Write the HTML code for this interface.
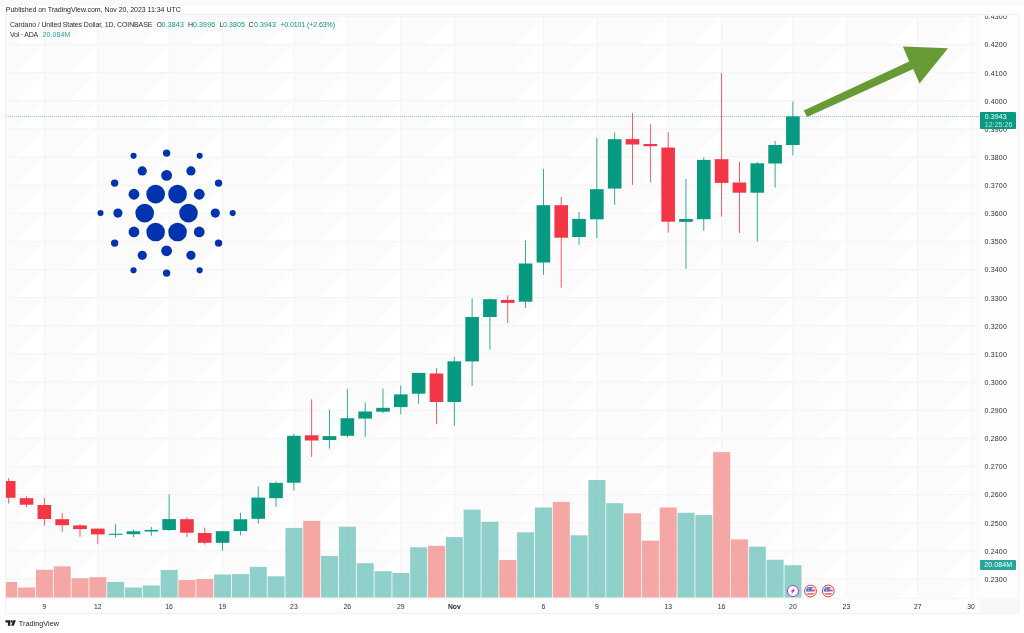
<!DOCTYPE html>
<html><head><meta charset="utf-8"><title>ADAUSD chart</title>
<style>
html,body{margin:0;padding:0;background:#ffffff;}
body{width:1024px;height:633px;position:relative;overflow:hidden;font-family:"Liberation Sans",sans-serif;}
.t{position:absolute;white-space:nowrap;line-height:1.15;filter:blur(0.3px);}
</style></head><body>
<svg width="1024" height="633" viewBox="0 0 1024 633" style="position:absolute;left:0;top:0">
<rect x="0" y="0" width="1024" height="6" fill="#fafafa"/>
<rect x="5.4" y="14.5" width="1013.3000000000001" height="598.9" fill="#fbfbfb"/>
<rect x="5.4" y="597.8" width="974.8000000000001" height="15.600000000000023" fill="#fdfdfd"/>
<rect x="980.2" y="14.5" width="38.5" height="583.3" fill="#fdfdfd"/>
<rect x="980.2" y="597.8" width="38.5" height="15.600000000000023" fill="#f8f8f8"/>
<clipPath id="pane"><rect x="5.4" y="14.5" width="974.8000000000001" height="583.3"/></clipPath>
<g clip-path="url(#pane)">
<path d="M42.6 16.3L44.3 14.5L44.3 16.3ZM96.0 16.3L97.8 14.5L97.8 16.3ZM167.3 16.3L169.1 14.5L169.1 16.3ZM220.8 16.3L222.6 14.5L222.6 16.3ZM292.1 16.3L293.9 14.5L293.9 16.3ZM345.6 16.3L347.3 14.5L347.3 16.3ZM399.0 16.3L400.8 14.5L400.8 16.3ZM452.5 16.3L454.3 14.5L454.3 16.3ZM541.6 16.3L543.4 14.5L543.4 16.3ZM595.1 16.3L596.9 14.5L596.9 16.3ZM666.4 16.3L668.2 14.5L668.2 16.3ZM719.9 16.3L721.6 14.5L721.6 16.3ZM791.1 16.3L792.9 14.5L792.9 16.3ZM844.6 16.3L846.4 14.5L846.4 16.3ZM915.9 16.3L917.7 14.5L917.7 16.3ZM969.4 16.3L971.1 14.5L971.1 16.3ZM16.2 44.4L44.3 16.3L44.3 44.4ZM69.7 44.4L97.8 16.3L97.8 44.4ZM141.0 44.4L169.1 16.3L169.1 44.4ZM194.4 44.4L222.6 16.3L222.6 44.4ZM265.7 44.4L293.9 16.3L293.9 44.4ZM319.2 44.4L347.3 16.3L347.3 44.4ZM372.7 44.4L400.8 16.3L400.8 44.4ZM426.1 44.4L454.3 16.3L454.3 44.4ZM515.3 44.4L543.4 16.3L543.4 44.4ZM568.7 44.4L596.9 16.3L596.9 44.4ZM640.0 44.4L668.2 16.3L668.2 44.4ZM693.5 44.4L721.6 16.3L721.6 44.4ZM764.8 44.4L792.9 16.3L792.9 44.4ZM818.3 44.4L846.4 16.3L846.4 44.4ZM889.5 44.4L917.7 16.3L917.7 44.4ZM943.0 44.4L971.1 16.3L971.1 44.4ZM16.2 72.5L44.3 44.4L44.3 72.5ZM69.7 72.5L97.8 44.4L97.8 72.5ZM141.0 72.5L169.1 44.4L169.1 72.5ZM194.4 72.5L222.6 44.4L222.6 72.5ZM265.7 72.5L293.9 44.4L293.9 72.5ZM319.2 72.5L347.3 44.4L347.3 72.5ZM372.7 72.5L400.8 44.4L400.8 72.5ZM426.1 72.5L454.3 44.4L454.3 72.5ZM515.3 72.5L543.4 44.4L543.4 72.5ZM568.7 72.5L596.9 44.4L596.9 72.5ZM640.0 72.5L668.2 44.4L668.2 72.5ZM693.5 72.5L721.6 44.4L721.6 72.5ZM764.8 72.5L792.9 44.4L792.9 72.5ZM818.3 72.5L846.4 44.4L846.4 72.5ZM889.5 72.5L917.7 44.4L917.7 72.5ZM943.0 72.5L971.1 44.4L971.1 72.5ZM16.2 100.7L44.3 72.5L44.3 100.7ZM69.7 100.7L97.8 72.5L97.8 100.7ZM141.0 100.7L169.1 72.5L169.1 100.7ZM194.4 100.7L222.6 72.5L222.6 100.7ZM265.7 100.7L293.9 72.5L293.9 100.7ZM319.2 100.7L347.3 72.5L347.3 100.7ZM372.7 100.7L400.8 72.5L400.8 100.7ZM426.1 100.7L454.3 72.5L454.3 100.7ZM515.3 100.7L543.4 72.5L543.4 100.7ZM568.7 100.7L596.9 72.5L596.9 100.7ZM640.0 100.7L668.2 72.5L668.2 100.7ZM693.5 100.7L721.6 72.5L721.6 100.7ZM764.8 100.7L792.9 72.5L792.9 100.7ZM818.3 100.7L846.4 72.5L846.4 100.7ZM889.5 100.7L917.7 72.5L917.7 100.7ZM943.0 100.7L971.1 72.5L971.1 100.7ZM16.2 128.8L44.3 100.7L44.3 128.8ZM69.7 128.8L97.8 100.7L97.8 128.8ZM141.0 128.8L169.1 100.7L169.1 128.8ZM194.4 128.8L222.6 100.7L222.6 128.8ZM265.7 128.8L293.9 100.7L293.9 128.8ZM319.2 128.8L347.3 100.7L347.3 128.8ZM372.7 128.8L400.8 100.7L400.8 128.8ZM426.1 128.8L454.3 100.7L454.3 128.8ZM515.3 128.8L543.4 100.7L543.4 128.8ZM568.7 128.8L596.9 100.7L596.9 128.8ZM640.0 128.8L668.2 100.7L668.2 128.8ZM693.5 128.8L721.6 100.7L721.6 128.8ZM764.8 128.8L792.9 100.7L792.9 128.8ZM818.3 128.8L846.4 100.7L846.4 128.8ZM889.5 128.8L917.7 100.7L917.7 128.8ZM943.0 128.8L971.1 100.7L971.1 128.8ZM16.2 156.9L44.3 128.8L44.3 156.9ZM69.7 156.9L97.8 128.8L97.8 156.9ZM141.0 156.9L169.1 128.8L169.1 156.9ZM194.4 156.9L222.6 128.8L222.6 156.9ZM265.7 156.9L293.9 128.8L293.9 156.9ZM319.2 156.9L347.3 128.8L347.3 156.9ZM372.7 156.9L400.8 128.8L400.8 156.9ZM426.1 156.9L454.3 128.8L454.3 156.9ZM515.3 156.9L543.4 128.8L543.4 156.9ZM568.7 156.9L596.9 128.8L596.9 156.9ZM640.0 156.9L668.2 128.8L668.2 156.9ZM693.5 156.9L721.6 128.8L721.6 156.9ZM764.8 156.9L792.9 128.8L792.9 156.9ZM818.3 156.9L846.4 128.8L846.4 156.9ZM889.5 156.9L917.7 128.8L917.7 156.9ZM943.0 156.9L971.1 128.8L971.1 156.9ZM16.2 185.1L44.3 156.9L44.3 185.1ZM69.7 185.1L97.8 156.9L97.8 185.1ZM141.0 185.1L169.1 156.9L169.1 185.1ZM194.4 185.1L222.6 156.9L222.6 185.1ZM265.7 185.1L293.9 156.9L293.9 185.1ZM319.2 185.1L347.3 156.9L347.3 185.1ZM372.7 185.1L400.8 156.9L400.8 185.1ZM426.1 185.1L454.3 156.9L454.3 185.1ZM515.3 185.1L543.4 156.9L543.4 185.1ZM568.7 185.1L596.9 156.9L596.9 185.1ZM640.0 185.1L668.2 156.9L668.2 185.1ZM693.5 185.1L721.6 156.9L721.6 185.1ZM764.8 185.1L792.9 156.9L792.9 185.1ZM818.3 185.1L846.4 156.9L846.4 185.1ZM889.5 185.1L917.7 156.9L917.7 185.1ZM943.0 185.1L971.1 156.9L971.1 185.1ZM16.2 213.2L44.3 185.1L44.3 213.2ZM69.7 213.2L97.8 185.1L97.8 213.2ZM141.0 213.2L169.1 185.1L169.1 213.2ZM194.4 213.2L222.6 185.1L222.6 213.2ZM265.7 213.2L293.9 185.1L293.9 213.2ZM319.2 213.2L347.3 185.1L347.3 213.2ZM372.7 213.2L400.8 185.1L400.8 213.2ZM426.1 213.2L454.3 185.1L454.3 213.2ZM515.3 213.2L543.4 185.1L543.4 213.2ZM568.7 213.2L596.9 185.1L596.9 213.2ZM640.0 213.2L668.2 185.1L668.2 213.2ZM693.5 213.2L721.6 185.1L721.6 213.2ZM764.8 213.2L792.9 185.1L792.9 213.2ZM818.3 213.2L846.4 185.1L846.4 213.2ZM889.5 213.2L917.7 185.1L917.7 213.2ZM943.0 213.2L971.1 185.1L971.1 213.2ZM16.2 241.3L44.3 213.2L44.3 241.3ZM69.7 241.3L97.8 213.2L97.8 241.3ZM141.0 241.3L169.1 213.2L169.1 241.3ZM194.4 241.3L222.6 213.2L222.6 241.3ZM265.7 241.3L293.9 213.2L293.9 241.3ZM319.2 241.3L347.3 213.2L347.3 241.3ZM372.7 241.3L400.8 213.2L400.8 241.3ZM426.1 241.3L454.3 213.2L454.3 241.3ZM515.3 241.3L543.4 213.2L543.4 241.3ZM568.7 241.3L596.9 213.2L596.9 241.3ZM640.0 241.3L668.2 213.2L668.2 241.3ZM693.5 241.3L721.6 213.2L721.6 241.3ZM764.8 241.3L792.9 213.2L792.9 241.3ZM818.3 241.3L846.4 213.2L846.4 241.3ZM889.5 241.3L917.7 213.2L917.7 241.3ZM943.0 241.3L971.1 213.2L971.1 241.3ZM16.2 269.4L44.3 241.3L44.3 269.4ZM69.7 269.4L97.8 241.3L97.8 269.4ZM141.0 269.4L169.1 241.3L169.1 269.4ZM194.4 269.4L222.6 241.3L222.6 269.4ZM265.7 269.4L293.9 241.3L293.9 269.4ZM319.2 269.4L347.3 241.3L347.3 269.4ZM372.7 269.4L400.8 241.3L400.8 269.4ZM426.1 269.4L454.3 241.3L454.3 269.4ZM515.3 269.4L543.4 241.3L543.4 269.4ZM568.7 269.4L596.9 241.3L596.9 269.4ZM640.0 269.4L668.2 241.3L668.2 269.4ZM693.5 269.4L721.6 241.3L721.6 269.4ZM764.8 269.4L792.9 241.3L792.9 269.4ZM818.3 269.4L846.4 241.3L846.4 269.4ZM889.5 269.4L917.7 241.3L917.7 269.4ZM943.0 269.4L971.1 241.3L971.1 269.4ZM16.2 297.6L44.3 269.4L44.3 297.6ZM69.7 297.6L97.8 269.4L97.8 297.6ZM141.0 297.6L169.1 269.4L169.1 297.6ZM194.4 297.6L222.6 269.4L222.6 297.6ZM265.7 297.6L293.9 269.4L293.9 297.6ZM319.2 297.6L347.3 269.4L347.3 297.6ZM372.7 297.6L400.8 269.4L400.8 297.6ZM426.1 297.6L454.3 269.4L454.3 297.6ZM515.3 297.6L543.4 269.4L543.4 297.6ZM568.7 297.6L596.9 269.4L596.9 297.6ZM640.0 297.6L668.2 269.4L668.2 297.6ZM693.5 297.6L721.6 269.4L721.6 297.6ZM764.8 297.6L792.9 269.4L792.9 297.6ZM818.3 297.6L846.4 269.4L846.4 297.6ZM889.5 297.6L917.7 269.4L917.7 297.6ZM943.0 297.6L971.1 269.4L971.1 297.6ZM16.2 325.7L44.3 297.6L44.3 325.7ZM69.7 325.7L97.8 297.6L97.8 325.7ZM141.0 325.7L169.1 297.6L169.1 325.7ZM194.4 325.7L222.6 297.6L222.6 325.7ZM265.7 325.7L293.9 297.6L293.9 325.7ZM319.2 325.7L347.3 297.6L347.3 325.7ZM372.7 325.7L400.8 297.6L400.8 325.7ZM426.1 325.7L454.3 297.6L454.3 325.7ZM515.3 325.7L543.4 297.6L543.4 325.7ZM568.7 325.7L596.9 297.6L596.9 325.7ZM640.0 325.7L668.2 297.6L668.2 325.7ZM693.5 325.7L721.6 297.6L721.6 325.7ZM764.8 325.7L792.9 297.6L792.9 325.7ZM818.3 325.7L846.4 297.6L846.4 325.7ZM889.5 325.7L917.7 297.6L917.7 325.7ZM943.0 325.7L971.1 297.6L971.1 325.7ZM16.2 353.8L44.3 325.7L44.3 353.8ZM69.7 353.8L97.8 325.7L97.8 353.8ZM141.0 353.8L169.1 325.7L169.1 353.8ZM194.4 353.8L222.6 325.7L222.6 353.8ZM265.7 353.8L293.9 325.7L293.9 353.8ZM319.2 353.8L347.3 325.7L347.3 353.8ZM372.7 353.8L400.8 325.7L400.8 353.8ZM426.1 353.8L454.3 325.7L454.3 353.8ZM515.3 353.8L543.4 325.7L543.4 353.8ZM568.7 353.8L596.9 325.7L596.9 353.8ZM640.0 353.8L668.2 325.7L668.2 353.8ZM693.5 353.8L721.6 325.7L721.6 353.8ZM764.8 353.8L792.9 325.7L792.9 353.8ZM818.3 353.8L846.4 325.7L846.4 353.8ZM889.5 353.8L917.7 325.7L917.7 353.8ZM943.0 353.8L971.1 325.7L971.1 353.8ZM16.2 382.0L44.3 353.8L44.3 382.0ZM69.7 382.0L97.8 353.8L97.8 382.0ZM141.0 382.0L169.1 353.8L169.1 382.0ZM194.4 382.0L222.6 353.8L222.6 382.0ZM265.7 382.0L293.9 353.8L293.9 382.0ZM319.2 382.0L347.3 353.8L347.3 382.0ZM372.7 382.0L400.8 353.8L400.8 382.0ZM426.1 382.0L454.3 353.8L454.3 382.0ZM515.3 382.0L543.4 353.8L543.4 382.0ZM568.7 382.0L596.9 353.8L596.9 382.0ZM640.0 382.0L668.2 353.8L668.2 382.0ZM693.5 382.0L721.6 353.8L721.6 382.0ZM764.8 382.0L792.9 353.8L792.9 382.0ZM818.3 382.0L846.4 353.8L846.4 382.0ZM889.5 382.0L917.7 353.8L917.7 382.0ZM943.0 382.0L971.1 353.8L971.1 382.0ZM16.2 410.1L44.3 382.0L44.3 410.1ZM69.7 410.1L97.8 382.0L97.8 410.1ZM141.0 410.1L169.1 382.0L169.1 410.1ZM194.4 410.1L222.6 382.0L222.6 410.1ZM265.7 410.1L293.9 382.0L293.9 410.1ZM319.2 410.1L347.3 382.0L347.3 410.1ZM372.7 410.1L400.8 382.0L400.8 410.1ZM426.1 410.1L454.3 382.0L454.3 410.1ZM515.3 410.1L543.4 382.0L543.4 410.1ZM568.7 410.1L596.9 382.0L596.9 410.1ZM640.0 410.1L668.2 382.0L668.2 410.1ZM693.5 410.1L721.6 382.0L721.6 410.1ZM764.8 410.1L792.9 382.0L792.9 410.1ZM818.3 410.1L846.4 382.0L846.4 410.1ZM889.5 410.1L917.7 382.0L917.7 410.1ZM943.0 410.1L971.1 382.0L971.1 410.1ZM16.2 438.2L44.3 410.1L44.3 438.2ZM69.7 438.2L97.8 410.1L97.8 438.2ZM141.0 438.2L169.1 410.1L169.1 438.2ZM194.4 438.2L222.6 410.1L222.6 438.2ZM265.7 438.2L293.9 410.1L293.9 438.2ZM319.2 438.2L347.3 410.1L347.3 438.2ZM372.7 438.2L400.8 410.1L400.8 438.2ZM426.1 438.2L454.3 410.1L454.3 438.2ZM515.3 438.2L543.4 410.1L543.4 438.2ZM568.7 438.2L596.9 410.1L596.9 438.2ZM640.0 438.2L668.2 410.1L668.2 438.2ZM693.5 438.2L721.6 410.1L721.6 438.2ZM764.8 438.2L792.9 410.1L792.9 438.2ZM818.3 438.2L846.4 410.1L846.4 438.2ZM889.5 438.2L917.7 410.1L917.7 438.2ZM943.0 438.2L971.1 410.1L971.1 438.2ZM16.2 466.3L44.3 438.2L44.3 466.3ZM69.7 466.3L97.8 438.2L97.8 466.3ZM141.0 466.3L169.1 438.2L169.1 466.3ZM194.4 466.3L222.6 438.2L222.6 466.3ZM265.7 466.3L293.9 438.2L293.9 466.3ZM319.2 466.3L347.3 438.2L347.3 466.3ZM372.7 466.3L400.8 438.2L400.8 466.3ZM426.1 466.3L454.3 438.2L454.3 466.3ZM515.3 466.3L543.4 438.2L543.4 466.3ZM568.7 466.3L596.9 438.2L596.9 466.3ZM640.0 466.3L668.2 438.2L668.2 466.3ZM693.5 466.3L721.6 438.2L721.6 466.3ZM764.8 466.3L792.9 438.2L792.9 466.3ZM818.3 466.3L846.4 438.2L846.4 466.3ZM889.5 466.3L917.7 438.2L917.7 466.3ZM943.0 466.3L971.1 438.2L971.1 466.3ZM16.2 494.5L44.3 466.3L44.3 494.5ZM69.7 494.5L97.8 466.3L97.8 494.5ZM141.0 494.5L169.1 466.3L169.1 494.5ZM194.4 494.5L222.6 466.3L222.6 494.5ZM265.7 494.5L293.9 466.3L293.9 494.5ZM319.2 494.5L347.3 466.3L347.3 494.5ZM372.7 494.5L400.8 466.3L400.8 494.5ZM426.1 494.5L454.3 466.3L454.3 494.5ZM515.3 494.5L543.4 466.3L543.4 494.5ZM568.7 494.5L596.9 466.3L596.9 494.5ZM640.0 494.5L668.2 466.3L668.2 494.5ZM693.5 494.5L721.6 466.3L721.6 494.5ZM764.8 494.5L792.9 466.3L792.9 494.5ZM818.3 494.5L846.4 466.3L846.4 494.5ZM889.5 494.5L917.7 466.3L917.7 494.5ZM943.0 494.5L971.1 466.3L971.1 494.5ZM16.2 522.6L44.3 494.5L44.3 522.6ZM69.7 522.6L97.8 494.5L97.8 522.6ZM141.0 522.6L169.1 494.5L169.1 522.6ZM194.4 522.6L222.6 494.5L222.6 522.6ZM265.7 522.6L293.9 494.5L293.9 522.6ZM319.2 522.6L347.3 494.5L347.3 522.6ZM372.7 522.6L400.8 494.5L400.8 522.6ZM426.1 522.6L454.3 494.5L454.3 522.6ZM515.3 522.6L543.4 494.5L543.4 522.6ZM568.7 522.6L596.9 494.5L596.9 522.6ZM640.0 522.6L668.2 494.5L668.2 522.6ZM693.5 522.6L721.6 494.5L721.6 522.6ZM764.8 522.6L792.9 494.5L792.9 522.6ZM818.3 522.6L846.4 494.5L846.4 522.6ZM889.5 522.6L917.7 494.5L917.7 522.6ZM943.0 522.6L971.1 494.5L971.1 522.6ZM16.2 550.7L44.3 522.6L44.3 550.7ZM69.7 550.7L97.8 522.6L97.8 550.7ZM141.0 550.7L169.1 522.6L169.1 550.7ZM194.4 550.7L222.6 522.6L222.6 550.7ZM265.7 550.7L293.9 522.6L293.9 550.7ZM319.2 550.7L347.3 522.6L347.3 550.7ZM372.7 550.7L400.8 522.6L400.8 550.7ZM426.1 550.7L454.3 522.6L454.3 550.7ZM515.3 550.7L543.4 522.6L543.4 550.7ZM568.7 550.7L596.9 522.6L596.9 550.7ZM640.0 550.7L668.2 522.6L668.2 550.7ZM693.5 550.7L721.6 522.6L721.6 550.7ZM764.8 550.7L792.9 522.6L792.9 550.7ZM818.3 550.7L846.4 522.6L846.4 550.7ZM889.5 550.7L917.7 522.6L917.7 550.7ZM943.0 550.7L971.1 522.6L971.1 550.7ZM16.2 578.9L44.3 550.7L44.3 578.9ZM69.7 578.9L97.8 550.7L97.8 578.9ZM141.0 578.9L169.1 550.7L169.1 578.9ZM194.4 578.9L222.6 550.7L222.6 578.9ZM265.7 578.9L293.9 550.7L293.9 578.9ZM319.2 578.9L347.3 550.7L347.3 578.9ZM372.7 578.9L400.8 550.7L400.8 578.9ZM426.1 578.9L454.3 550.7L454.3 578.9ZM515.3 578.9L543.4 550.7L543.4 578.9ZM568.7 578.9L596.9 550.7L596.9 578.9ZM640.0 578.9L668.2 550.7L668.2 578.9ZM693.5 578.9L721.6 550.7L721.6 578.9ZM764.8 578.9L792.9 550.7L792.9 578.9ZM818.3 578.9L846.4 550.7L846.4 578.9ZM889.5 578.9L917.7 550.7L917.7 578.9ZM943.0 578.9L971.1 550.7L971.1 578.9ZM25.4 597.8L44.3 578.9L44.3 597.8ZM78.9 597.8L97.8 578.9L97.8 597.8ZM150.2 597.8L169.1 578.9L169.1 597.8ZM203.6 597.8L222.6 578.9L222.6 597.8ZM274.9 597.8L293.9 578.9L293.9 597.8ZM328.4 597.8L347.3 578.9L347.3 597.8ZM381.9 597.8L400.8 578.9L400.8 597.8ZM435.3 597.8L454.3 578.9L454.3 597.8ZM524.5 597.8L543.4 578.9L543.4 597.8ZM577.9 597.8L596.9 578.9L596.9 597.8ZM649.2 597.8L668.2 578.9L668.2 597.8ZM702.7 597.8L721.6 578.9L721.6 597.8ZM774.0 597.8L792.9 578.9L792.9 597.8ZM827.5 597.8L846.4 578.9L846.4 597.8ZM898.7 597.8L917.7 578.9L917.7 597.8ZM952.2 597.8L971.1 578.9L971.1 597.8Z" fill="#ffffff"/>
<rect x="0.25" y="582" width="17" height="15.80" fill="#fbfbfb"/>
<rect x="18.07" y="587.5" width="17" height="10.30" fill="#fbfbfb"/>
<rect x="35.90" y="569.8" width="17" height="28.00" fill="#fbfbfb"/>
<rect x="53.72" y="566.4" width="17" height="31.40" fill="#fbfbfb"/>
<rect x="71.54" y="578.3" width="17" height="19.50" fill="#fbfbfb"/>
<rect x="89.37" y="577.2" width="17" height="20.60" fill="#fbfbfb"/>
<rect x="107.19" y="581.9" width="17" height="15.90" fill="#fbfbfb"/>
<rect x="125.01" y="587.5" width="17" height="10.30" fill="#fbfbfb"/>
<rect x="142.83" y="585.5" width="17" height="12.30" fill="#fbfbfb"/>
<rect x="160.66" y="570" width="17" height="27.80" fill="#fbfbfb"/>
<rect x="178.48" y="580" width="17" height="17.80" fill="#fbfbfb"/>
<rect x="196.30" y="579" width="17" height="18.80" fill="#fbfbfb"/>
<rect x="214.13" y="574.5" width="17" height="23.30" fill="#fbfbfb"/>
<rect x="231.95" y="574.1" width="17" height="23.70" fill="#fbfbfb"/>
<rect x="249.77" y="566.9" width="17" height="30.90" fill="#fbfbfb"/>
<rect x="267.60" y="576.3" width="17" height="21.50" fill="#fbfbfb"/>
<rect x="285.42" y="527.9" width="17" height="69.90" fill="#fbfbfb"/>
<rect x="303.24" y="520.9" width="17" height="76.90" fill="#fbfbfb"/>
<rect x="321.06" y="555.9" width="17" height="41.90" fill="#fbfbfb"/>
<rect x="338.89" y="526.7" width="17" height="71.10" fill="#fbfbfb"/>
<rect x="356.71" y="563.2" width="17" height="34.60" fill="#fbfbfb"/>
<rect x="374.53" y="571.2" width="17" height="26.60" fill="#fbfbfb"/>
<rect x="392.36" y="573" width="17" height="24.80" fill="#fbfbfb"/>
<rect x="410.18" y="547.3" width="17" height="50.50" fill="#fbfbfb"/>
<rect x="428.00" y="545.9" width="17" height="51.90" fill="#fbfbfb"/>
<rect x="445.82" y="537.1" width="17" height="60.70" fill="#fbfbfb"/>
<rect x="463.65" y="509.7" width="17" height="88.10" fill="#fbfbfb"/>
<rect x="481.47" y="521.8" width="17" height="76.00" fill="#fbfbfb"/>
<rect x="499.29" y="560" width="17" height="37.80" fill="#fbfbfb"/>
<rect x="517.12" y="532.3" width="17" height="65.50" fill="#fbfbfb"/>
<rect x="534.94" y="507.5" width="17" height="90.30" fill="#fbfbfb"/>
<rect x="552.76" y="501.9" width="17" height="95.90" fill="#fbfbfb"/>
<rect x="570.59" y="535.3" width="17" height="62.50" fill="#fbfbfb"/>
<rect x="588.41" y="480" width="17" height="117.80" fill="#fbfbfb"/>
<rect x="606.23" y="503.2" width="17" height="94.60" fill="#fbfbfb"/>
<rect x="624.06" y="513.3" width="17" height="84.50" fill="#fbfbfb"/>
<rect x="641.88" y="540.6" width="17" height="57.20" fill="#fbfbfb"/>
<rect x="659.70" y="507.5" width="17" height="90.30" fill="#fbfbfb"/>
<rect x="677.52" y="512.8" width="17" height="85.00" fill="#fbfbfb"/>
<rect x="695.35" y="515.1" width="17" height="82.70" fill="#fbfbfb"/>
<rect x="713.17" y="452.1" width="17" height="145.70" fill="#fbfbfb"/>
<rect x="730.99" y="539.4" width="17" height="58.40" fill="#fbfbfb"/>
<rect x="748.82" y="546.7" width="17" height="51.10" fill="#fbfbfb"/>
<rect x="766.64" y="559.8" width="17" height="38.00" fill="#fbfbfb"/>
<rect x="784.46" y="565.2" width="17" height="32.60" fill="#fbfbfb"/>
<path d="M44.35 14.5V597.8M97.82 14.5V597.8M169.11 14.5V597.8M222.58 14.5V597.8M293.87 14.5V597.8M347.34 14.5V597.8M400.81 14.5V597.8M454.27 14.5V597.8M543.39 14.5V597.8M596.86 14.5V597.8M668.15 14.5V597.8M721.62 14.5V597.8M792.91 14.5V597.8M846.38 14.5V597.8M917.67 14.5V597.8M971.14 14.5V597.8M5.4 16.27H980.2M5.4 44.40H980.2M5.4 72.53H980.2M5.4 100.66H980.2M5.4 128.79H980.2M5.4 156.92H980.2M5.4 185.05H980.2M5.4 213.18H980.2M5.4 241.31H980.2M5.4 269.44H980.2M5.4 297.57H980.2M5.4 325.70H980.2M5.4 353.83H980.2M5.4 381.96H980.2M5.4 410.09H980.2M5.4 438.22H980.2M5.4 466.35H980.2M5.4 494.48H980.2M5.4 522.61H980.2M5.4 550.74H980.2M5.4 578.87H980.2" stroke="#f4f4f4" stroke-width="1" fill="none"/>
<rect x="0.25" y="582" width="17" height="15.80" fill="#ef5350" fill-opacity="0.5"/>
<rect x="18.07" y="587.5" width="17" height="10.30" fill="#ef5350" fill-opacity="0.5"/>
<rect x="35.90" y="569.8" width="17" height="28.00" fill="#ef5350" fill-opacity="0.5"/>
<rect x="53.72" y="566.4" width="17" height="31.40" fill="#ef5350" fill-opacity="0.5"/>
<rect x="71.54" y="578.3" width="17" height="19.50" fill="#ef5350" fill-opacity="0.5"/>
<rect x="89.37" y="577.2" width="17" height="20.60" fill="#ef5350" fill-opacity="0.5"/>
<rect x="107.19" y="581.9" width="17" height="15.90" fill="#26a69a" fill-opacity="0.5"/>
<rect x="125.01" y="587.5" width="17" height="10.30" fill="#26a69a" fill-opacity="0.5"/>
<rect x="142.83" y="585.5" width="17" height="12.30" fill="#26a69a" fill-opacity="0.5"/>
<rect x="160.66" y="570" width="17" height="27.80" fill="#26a69a" fill-opacity="0.5"/>
<rect x="178.48" y="580" width="17" height="17.80" fill="#ef5350" fill-opacity="0.5"/>
<rect x="196.30" y="579" width="17" height="18.80" fill="#ef5350" fill-opacity="0.5"/>
<rect x="214.13" y="574.5" width="17" height="23.30" fill="#26a69a" fill-opacity="0.5"/>
<rect x="231.95" y="574.1" width="17" height="23.70" fill="#26a69a" fill-opacity="0.5"/>
<rect x="249.77" y="566.9" width="17" height="30.90" fill="#26a69a" fill-opacity="0.5"/>
<rect x="267.60" y="576.3" width="17" height="21.50" fill="#26a69a" fill-opacity="0.5"/>
<rect x="285.42" y="527.9" width="17" height="69.90" fill="#26a69a" fill-opacity="0.5"/>
<rect x="303.24" y="520.9" width="17" height="76.90" fill="#ef5350" fill-opacity="0.5"/>
<rect x="321.06" y="555.9" width="17" height="41.90" fill="#26a69a" fill-opacity="0.5"/>
<rect x="338.89" y="526.7" width="17" height="71.10" fill="#26a69a" fill-opacity="0.5"/>
<rect x="356.71" y="563.2" width="17" height="34.60" fill="#26a69a" fill-opacity="0.5"/>
<rect x="374.53" y="571.2" width="17" height="26.60" fill="#26a69a" fill-opacity="0.5"/>
<rect x="392.36" y="573" width="17" height="24.80" fill="#26a69a" fill-opacity="0.5"/>
<rect x="410.18" y="547.3" width="17" height="50.50" fill="#26a69a" fill-opacity="0.5"/>
<rect x="428.00" y="545.9" width="17" height="51.90" fill="#ef5350" fill-opacity="0.5"/>
<rect x="445.82" y="537.1" width="17" height="60.70" fill="#26a69a" fill-opacity="0.5"/>
<rect x="463.65" y="509.7" width="17" height="88.10" fill="#26a69a" fill-opacity="0.5"/>
<rect x="481.47" y="521.8" width="17" height="76.00" fill="#26a69a" fill-opacity="0.5"/>
<rect x="499.29" y="560" width="17" height="37.80" fill="#ef5350" fill-opacity="0.5"/>
<rect x="517.12" y="532.3" width="17" height="65.50" fill="#26a69a" fill-opacity="0.5"/>
<rect x="534.94" y="507.5" width="17" height="90.30" fill="#26a69a" fill-opacity="0.5"/>
<rect x="552.76" y="501.9" width="17" height="95.90" fill="#ef5350" fill-opacity="0.5"/>
<rect x="570.59" y="535.3" width="17" height="62.50" fill="#26a69a" fill-opacity="0.5"/>
<rect x="588.41" y="480" width="17" height="117.80" fill="#26a69a" fill-opacity="0.5"/>
<rect x="606.23" y="503.2" width="17" height="94.60" fill="#26a69a" fill-opacity="0.5"/>
<rect x="624.06" y="513.3" width="17" height="84.50" fill="#ef5350" fill-opacity="0.5"/>
<rect x="641.88" y="540.6" width="17" height="57.20" fill="#ef5350" fill-opacity="0.5"/>
<rect x="659.70" y="507.5" width="17" height="90.30" fill="#ef5350" fill-opacity="0.5"/>
<rect x="677.52" y="512.8" width="17" height="85.00" fill="#26a69a" fill-opacity="0.5"/>
<rect x="695.35" y="515.1" width="17" height="82.70" fill="#26a69a" fill-opacity="0.5"/>
<rect x="713.17" y="452.1" width="17" height="145.70" fill="#ef5350" fill-opacity="0.5"/>
<rect x="730.99" y="539.4" width="17" height="58.40" fill="#ef5350" fill-opacity="0.5"/>
<rect x="748.82" y="546.7" width="17" height="51.10" fill="#26a69a" fill-opacity="0.5"/>
<rect x="766.64" y="559.8" width="17" height="38.00" fill="#26a69a" fill-opacity="0.5"/>
<rect x="784.46" y="565.2" width="17" height="32.60" fill="#26a69a" fill-opacity="0.5"/>
<rect x="8.30" y="478" width="0.8" height="25.50" fill="#f23645"/>
<rect x="1.90" y="481" width="13.6" height="16.80" fill="#f23645"/>
<rect x="26.12" y="496.2" width="0.8" height="10.80" fill="#f23645"/>
<rect x="19.72" y="498.2" width="13.6" height="6.50" fill="#f23645"/>
<rect x="43.95" y="497.8" width="0.8" height="27.80" fill="#f23645"/>
<rect x="37.55" y="505" width="13.6" height="14.00" fill="#f23645"/>
<rect x="61.77" y="512.9" width="0.8" height="19.00" fill="#f23645"/>
<rect x="55.37" y="519.2" width="13.6" height="6.00" fill="#f23645"/>
<rect x="79.59" y="524.3" width="0.8" height="12.50" fill="#f23645"/>
<rect x="73.19" y="525.4" width="13.6" height="3.70" fill="#f23645"/>
<rect x="97.42" y="528.6" width="0.8" height="15.60" fill="#f23645"/>
<rect x="91.02" y="528.6" width="13.6" height="5.80" fill="#f23645"/>
<rect x="115.24" y="524" width="0.8" height="13.40" fill="#089981"/>
<rect x="108.84" y="533.7" width="13.6" height="1.10" fill="#089981"/>
<rect x="133.06" y="529.5" width="0.8" height="7.50" fill="#089981"/>
<rect x="126.66" y="531.3" width="13.6" height="2.90" fill="#089981"/>
<rect x="150.88" y="527" width="0.8" height="8.80" fill="#089981"/>
<rect x="144.48" y="529.9" width="13.6" height="1.60" fill="#089981"/>
<rect x="168.71" y="494.3" width="0.8" height="36.60" fill="#089981"/>
<rect x="162.31" y="519.1" width="13.6" height="10.90" fill="#089981"/>
<rect x="186.53" y="517.4" width="0.8" height="19.40" fill="#f23645"/>
<rect x="180.13" y="519.2" width="13.6" height="13.50" fill="#f23645"/>
<rect x="204.35" y="527.5" width="0.8" height="17.10" fill="#f23645"/>
<rect x="197.95" y="533" width="13.6" height="9.80" fill="#f23645"/>
<rect x="222.18" y="531.2" width="0.8" height="19.60" fill="#089981"/>
<rect x="215.78" y="531.2" width="13.6" height="11.60" fill="#089981"/>
<rect x="240.00" y="512.8" width="0.8" height="22.60" fill="#089981"/>
<rect x="233.60" y="519.3" width="13.6" height="11.70" fill="#089981"/>
<rect x="257.82" y="486.5" width="0.8" height="37.10" fill="#089981"/>
<rect x="251.42" y="497.6" width="13.6" height="21.20" fill="#089981"/>
<rect x="275.65" y="481.3" width="0.8" height="25.50" fill="#089981"/>
<rect x="269.25" y="482.9" width="13.6" height="15.30" fill="#089981"/>
<rect x="293.47" y="433.7" width="0.8" height="56.80" fill="#089981"/>
<rect x="287.07" y="435.8" width="13.6" height="46.90" fill="#089981"/>
<rect x="311.29" y="399.4" width="0.8" height="57.40" fill="#f23645"/>
<rect x="304.89" y="435.3" width="13.6" height="5.20" fill="#f23645"/>
<rect x="329.11" y="410" width="0.8" height="38.60" fill="#089981"/>
<rect x="322.71" y="436.1" width="13.6" height="3.90" fill="#089981"/>
<rect x="346.94" y="388.9" width="0.8" height="48.60" fill="#089981"/>
<rect x="340.54" y="418.2" width="13.6" height="17.60" fill="#089981"/>
<rect x="364.76" y="402.4" width="0.8" height="34.30" fill="#089981"/>
<rect x="358.36" y="411.5" width="13.6" height="7.10" fill="#089981"/>
<rect x="382.58" y="388.5" width="0.8" height="24.70" fill="#089981"/>
<rect x="376.18" y="407.8" width="13.6" height="3.90" fill="#089981"/>
<rect x="400.41" y="385.5" width="0.8" height="28.80" fill="#089981"/>
<rect x="394.01" y="394.4" width="13.6" height="12.70" fill="#089981"/>
<rect x="418.23" y="372.9" width="0.8" height="30.90" fill="#089981"/>
<rect x="411.83" y="372.9" width="13.6" height="20.80" fill="#089981"/>
<rect x="436.05" y="368.2" width="0.8" height="55.80" fill="#f23645"/>
<rect x="429.65" y="373.5" width="13.6" height="28.50" fill="#f23645"/>
<rect x="453.88" y="357" width="0.8" height="68.70" fill="#089981"/>
<rect x="447.47" y="361.3" width="13.6" height="40.70" fill="#089981"/>
<rect x="471.70" y="298.4" width="0.8" height="87.60" fill="#089981"/>
<rect x="465.30" y="317" width="13.6" height="44.40" fill="#089981"/>
<rect x="489.52" y="298.5" width="0.8" height="51.20" fill="#089981"/>
<rect x="483.12" y="299.2" width="13.6" height="17.80" fill="#089981"/>
<rect x="507.34" y="295.4" width="0.8" height="27.50" fill="#f23645"/>
<rect x="500.94" y="299.9" width="13.6" height="3.00" fill="#f23645"/>
<rect x="525.17" y="240.3" width="0.8" height="67.70" fill="#089981"/>
<rect x="518.77" y="263.5" width="13.6" height="38.20" fill="#089981"/>
<rect x="542.99" y="168.8" width="0.8" height="106.10" fill="#089981"/>
<rect x="536.59" y="205.2" width="13.6" height="57.30" fill="#089981"/>
<rect x="560.81" y="197" width="0.8" height="90.60" fill="#f23645"/>
<rect x="554.41" y="205.2" width="13.6" height="32.50" fill="#f23645"/>
<rect x="578.64" y="211.9" width="0.8" height="32.80" fill="#089981"/>
<rect x="572.24" y="218.9" width="13.6" height="18.10" fill="#089981"/>
<rect x="596.46" y="137.8" width="0.8" height="100.50" fill="#089981"/>
<rect x="590.06" y="189.2" width="13.6" height="30.10" fill="#089981"/>
<rect x="614.28" y="132.4" width="0.8" height="72.40" fill="#089981"/>
<rect x="607.88" y="139.2" width="13.6" height="49.40" fill="#089981"/>
<rect x="632.11" y="112.9" width="0.8" height="71.90" fill="#f23645"/>
<rect x="625.71" y="139.1" width="13.6" height="5.40" fill="#f23645"/>
<rect x="649.93" y="124.3" width="0.8" height="58.10" fill="#f23645"/>
<rect x="643.53" y="144" width="13.6" height="2.20" fill="#f23645"/>
<rect x="667.75" y="132" width="0.8" height="100.60" fill="#f23645"/>
<rect x="661.35" y="147.6" width="13.6" height="74.10" fill="#f23645"/>
<rect x="685.57" y="179" width="0.8" height="89.90" fill="#089981"/>
<rect x="679.17" y="219" width="13.6" height="2.90" fill="#089981"/>
<rect x="703.40" y="157.4" width="0.8" height="73.30" fill="#089981"/>
<rect x="697.00" y="159.9" width="13.6" height="59.30" fill="#089981"/>
<rect x="721.22" y="73.1" width="0.8" height="143.50" fill="#f23645"/>
<rect x="714.82" y="159.2" width="13.6" height="23.70" fill="#f23645"/>
<rect x="739.04" y="161.8" width="0.8" height="71.20" fill="#f23645"/>
<rect x="732.64" y="182.5" width="13.6" height="10.20" fill="#f23645"/>
<rect x="756.87" y="162" width="0.8" height="79.50" fill="#089981"/>
<rect x="750.47" y="163.3" width="13.6" height="29.40" fill="#089981"/>
<rect x="774.69" y="140.9" width="0.8" height="46.70" fill="#089981"/>
<rect x="768.29" y="145" width="13.6" height="18.50" fill="#089981"/>
<rect x="792.51" y="101.5" width="0.8" height="53.90" fill="#089981"/>
<rect x="786.11" y="116.4" width="13.6" height="28.60" fill="#089981"/>
<path d="M6 116.5H980.2" stroke="#089981" stroke-width="1" stroke-dasharray="1 1" opacity="0.45"/>
</g>
<rect x="5.4" y="14.5" width="1013.3000000000001" height="598.9" fill="none" stroke="#f1f1f1" stroke-width="1"/>
<path d="M5.4 598.4H980.2" stroke="#f6f6f6" stroke-width="1"/>
<polygon points="803.8,110.4 909.2,61.5 902.9,46.6 948,48.3 919.5,83.6 913.2,69 807,117" fill="#689b35"/>
<g fill="#0033ad">
<circle cx="188.50" cy="213.10" r="9.3"/><circle cx="177.55" cy="232.07" r="9.3"/><circle cx="155.65" cy="232.07" r="9.3"/><circle cx="144.70" cy="213.10" r="9.3"/><circle cx="155.65" cy="194.13" r="9.3"/><circle cx="177.55" cy="194.13" r="9.3"/>
<circle cx="199.25" cy="231.95" r="5.4"/><circle cx="166.60" cy="250.80" r="5.4"/><circle cx="133.95" cy="231.95" r="5.4"/><circle cx="133.95" cy="194.25" r="5.4"/><circle cx="166.60" cy="175.40" r="5.4"/><circle cx="199.25" cy="194.25" r="5.4"/>
<circle cx="215.30" cy="213.10" r="4.6"/><circle cx="190.95" cy="255.28" r="4.6"/><circle cx="142.25" cy="255.28" r="4.6"/><circle cx="117.90" cy="213.10" r="4.6"/><circle cx="142.25" cy="170.92" r="4.6"/><circle cx="190.95" cy="170.92" r="4.6"/>
<circle cx="218.56" cy="243.10" r="3.7"/><circle cx="166.60" cy="273.10" r="3.7"/><circle cx="114.64" cy="243.10" r="3.7"/><circle cx="114.64" cy="183.10" r="3.7"/><circle cx="166.60" cy="153.10" r="3.7"/><circle cx="218.56" cy="183.10" r="3.7"/>
<circle cx="232.70" cy="213.10" r="3.05"/><circle cx="199.65" cy="270.34" r="3.05"/><circle cx="133.55" cy="270.34" r="3.05"/><circle cx="100.50" cy="213.10" r="3.05"/><circle cx="133.55" cy="155.86" r="3.05"/><circle cx="199.65" cy="155.86" r="3.05"/>
</g>
<g>
<circle cx="792.9" cy="591.0" r="5.5" fill="#fff" stroke="#a93ec0" stroke-width="1"/>
<path d="M794.6 587.8L790.5 591.6L792.5 591.6L791.0 594.4L795.2 590.3L793.3 590.3Z" fill="#a93ec0"/>
<circle cx="810.5" cy="591" r="5.9" fill="#fff" stroke="#f23645" stroke-width="1"/>
<clipPath id="fl0"><circle cx="810.5" cy="591" r="4.5"/></clipPath>
<g clip-path="url(#fl0)">
<rect x="805.5" y="587.1" width="10" height="1.0" fill="#f04a57"/>
<rect x="805.5" y="589.5" width="10" height="1.9" fill="#f04a57"/>
<rect x="805.5" y="593.2" width="10" height="1.4" fill="#f04a57"/>
<rect x="805.5" y="587.1" width="6.3" height="4.3" fill="#3f7fd9"/>
<rect x="808.5" y="587.1" width="0.7" height="4.3" fill="#9ec0ee"/>
</g>
<circle cx="828.3" cy="591" r="5.9" fill="#fff" stroke="#f23645" stroke-width="1"/>
<clipPath id="fl1"><circle cx="828.3" cy="591" r="4.5"/></clipPath>
<g clip-path="url(#fl1)">
<rect x="823.3" y="587.1" width="10" height="1.0" fill="#f04a57"/>
<rect x="823.3" y="589.5" width="10" height="1.9" fill="#f04a57"/>
<rect x="823.3" y="593.2" width="10" height="1.4" fill="#f04a57"/>
<rect x="823.3" y="587.1" width="6.3" height="4.3" fill="#3f7fd9"/>
<rect x="826.3" y="587.1" width="0.7" height="4.3" fill="#9ec0ee"/>
</g>
</g>
<g fill="#1e1e1e"><path d="M5.5 620.3h4.8v5.4h-2.4v-3.1h-2.4z"/><circle cx="11.7" cy="621.5" r="1.15"/><path d="M13.3 620.3h2.6l-2.2 5.4h-2.6z"/></g>
</svg>
<div class="t" style="left:5.8px;top:5.55px;font-size:7.0px;color:#1e1e1e;font-weight:normal;letter-spacing:-0.029px;">Published on TradingView.com, Nov 20, 2023 11:34 UTC</div>
<div class="t" style="left:9.9px;top:20.55px;font-size:7.0px;color:#2a2e39;font-weight:normal;letter-spacing:-0.115px;">Cardano / United States Dollar, 1D, COINBASE</div>
<div class="t" style="left:156.4px;top:20.55px;font-size:7.0px;color:#2a2e39;font-weight:normal;letter-spacing:-1.153px;">O</div>
<div class="t" style="left:161.5px;top:20.55px;font-size:7.0px;color:#089981;font-weight:normal;letter-spacing:0.180px;">0.3843</div>
<div class="t" style="left:187.9px;top:20.55px;font-size:7.0px;color:#2a2e39;font-weight:normal;letter-spacing:-0.763px;">H</div>
<div class="t" style="left:193px;top:20.55px;font-size:7.0px;color:#089981;font-weight:normal;letter-spacing:0.130px;">0.3996</div>
<div class="t" style="left:219.6px;top:20.55px;font-size:7.0px;color:#2a2e39;font-weight:normal;letter-spacing:-1.106px;">L</div>
<div class="t" style="left:222.9px;top:20.55px;font-size:7.0px;color:#089981;font-weight:normal;letter-spacing:0.130px;">0.3805</div>
<div class="t" style="left:248.6px;top:20.55px;font-size:7.0px;color:#2a2e39;font-weight:normal;letter-spacing:-0.562px;">C</div>
<div class="t" style="left:253.9px;top:20.55px;font-size:7.0px;color:#089981;font-weight:normal;letter-spacing:0.130px;">0.3943</div>
<div class="t" style="left:280.3px;top:20.55px;font-size:7.0px;color:#089981;font-weight:normal;letter-spacing:-0.084px;">+0.0101 (+2.63%)</div>
<div class="t" style="left:9.9px;top:30.55px;font-size:7.0px;color:#2a2e39;font-weight:normal;letter-spacing:-0.197px;">Vol · ADA</div>
<div class="t" style="left:42.5px;top:30.55px;font-size:7.0px;color:#26a69a;font-weight:normal;letter-spacing:0.079px;">20.084M</div>
<div class="t" style="left:984.4px;top:13.27px;font-size:7.0px;color:#2a2e39;font-weight:normal;letter-spacing:0.213px;clip-path:inset(2.6px 0 0 0);">0.4300</div>
<div class="t" style="left:984.4px;top:41.40px;font-size:7.0px;color:#2a2e39;font-weight:normal;letter-spacing:0.213px;">0.4200</div>
<div class="t" style="left:984.4px;top:69.53px;font-size:7.0px;color:#2a2e39;font-weight:normal;letter-spacing:0.213px;">0.4100</div>
<div class="t" style="left:984.4px;top:97.66px;font-size:7.0px;color:#2a2e39;font-weight:normal;letter-spacing:0.213px;">0.4000</div>
<div class="t" style="left:984.4px;top:125.79px;font-size:7.0px;color:#2a2e39;font-weight:normal;letter-spacing:0.213px;">0.3900</div>
<div class="t" style="left:984.4px;top:153.92px;font-size:7.0px;color:#2a2e39;font-weight:normal;letter-spacing:0.213px;">0.3800</div>
<div class="t" style="left:984.4px;top:182.05px;font-size:7.0px;color:#2a2e39;font-weight:normal;letter-spacing:0.213px;">0.3700</div>
<div class="t" style="left:984.4px;top:210.18px;font-size:7.0px;color:#2a2e39;font-weight:normal;letter-spacing:0.213px;">0.3600</div>
<div class="t" style="left:984.4px;top:238.31px;font-size:7.0px;color:#2a2e39;font-weight:normal;letter-spacing:0.213px;">0.3500</div>
<div class="t" style="left:984.4px;top:266.44px;font-size:7.0px;color:#2a2e39;font-weight:normal;letter-spacing:0.213px;">0.3400</div>
<div class="t" style="left:984.4px;top:294.57px;font-size:7.0px;color:#2a2e39;font-weight:normal;letter-spacing:0.213px;">0.3300</div>
<div class="t" style="left:984.4px;top:322.70px;font-size:7.0px;color:#2a2e39;font-weight:normal;letter-spacing:0.213px;">0.3200</div>
<div class="t" style="left:984.4px;top:350.83px;font-size:7.0px;color:#2a2e39;font-weight:normal;letter-spacing:0.213px;">0.3100</div>
<div class="t" style="left:984.4px;top:378.96px;font-size:7.0px;color:#2a2e39;font-weight:normal;letter-spacing:0.213px;">0.3000</div>
<div class="t" style="left:984.4px;top:407.09px;font-size:7.0px;color:#2a2e39;font-weight:normal;letter-spacing:0.213px;">0.2900</div>
<div class="t" style="left:984.4px;top:435.22px;font-size:7.0px;color:#2a2e39;font-weight:normal;letter-spacing:0.213px;">0.2800</div>
<div class="t" style="left:984.4px;top:463.35px;font-size:7.0px;color:#2a2e39;font-weight:normal;letter-spacing:0.213px;">0.2700</div>
<div class="t" style="left:984.4px;top:491.48px;font-size:7.0px;color:#2a2e39;font-weight:normal;letter-spacing:0.213px;">0.2600</div>
<div class="t" style="left:984.4px;top:519.61px;font-size:7.0px;color:#2a2e39;font-weight:normal;letter-spacing:0.213px;">0.2500</div>
<div class="t" style="left:984.4px;top:547.74px;font-size:7.0px;color:#2a2e39;font-weight:normal;letter-spacing:0.213px;">0.2400</div>
<div class="t" style="left:984.4px;top:575.87px;font-size:7.0px;color:#2a2e39;font-weight:normal;letter-spacing:0.213px;">0.2300</div>
<div style="position:absolute;left:979.9px;top:111.8px;width:36.1px;height:17.1px;background:#089981;border-radius:1px"></div>
<div style="position:absolute;left:979.8px;top:560.3px;width:36px;height:9.5px;background:#26a69a;border-radius:1px"></div>
<div class="t" style="left:984.7px;top:112.55px;font-size:7.0px;color:#fff;font-weight:normal;letter-spacing:0.130px;">0.3943</div>
<div class="t" style="left:984.7px;top:120.55px;font-size:7.0px;color:rgba(255,255,255,0.75);font-weight:normal;letter-spacing:0.069px;">12:25:26</div>
<div class="t" style="left:984.3px;top:560.95px;font-size:7.0px;color:#fff;font-weight:normal;letter-spacing:0.079px;">20.084M</div>
<div class="t" style="left:44.3px;transform:translateX(-50%);top:602.73px;font-size:6.8px;color:#2a2e39;font-weight:normal;">9</div>
<div class="t" style="left:97.8px;transform:translateX(-50%);top:602.73px;font-size:6.8px;color:#2a2e39;font-weight:normal;">12</div>
<div class="t" style="left:169.1px;transform:translateX(-50%);top:602.73px;font-size:6.8px;color:#2a2e39;font-weight:normal;">16</div>
<div class="t" style="left:222.6px;transform:translateX(-50%);top:602.73px;font-size:6.8px;color:#2a2e39;font-weight:normal;">19</div>
<div class="t" style="left:293.9px;transform:translateX(-50%);top:602.73px;font-size:6.8px;color:#2a2e39;font-weight:normal;">23</div>
<div class="t" style="left:347.3px;transform:translateX(-50%);top:602.73px;font-size:6.8px;color:#2a2e39;font-weight:normal;">26</div>
<div class="t" style="left:400.8px;transform:translateX(-50%);top:602.73px;font-size:6.8px;color:#2a2e39;font-weight:normal;">29</div>
<div class="t" style="left:454.3px;transform:translateX(-50%);top:602.73px;font-size:6.8px;color:#2a2e39;font-weight:bold;">Nov</div>
<div class="t" style="left:543.4px;transform:translateX(-50%);top:602.73px;font-size:6.8px;color:#2a2e39;font-weight:normal;">6</div>
<div class="t" style="left:596.9px;transform:translateX(-50%);top:602.73px;font-size:6.8px;color:#2a2e39;font-weight:normal;">9</div>
<div class="t" style="left:668.2px;transform:translateX(-50%);top:602.73px;font-size:6.8px;color:#2a2e39;font-weight:normal;">13</div>
<div class="t" style="left:721.6px;transform:translateX(-50%);top:602.73px;font-size:6.8px;color:#2a2e39;font-weight:normal;">16</div>
<div class="t" style="left:792.9px;transform:translateX(-50%);top:602.73px;font-size:6.8px;color:#2a2e39;font-weight:normal;">20</div>
<div class="t" style="left:846.4px;transform:translateX(-50%);top:602.73px;font-size:6.8px;color:#2a2e39;font-weight:normal;">23</div>
<div class="t" style="left:917.7px;transform:translateX(-50%);top:602.73px;font-size:6.8px;color:#2a2e39;font-weight:normal;">27</div>
<div class="t" style="left:971.1px;transform:translateX(-50%);top:602.73px;font-size:6.8px;color:#2a2e39;font-weight:normal;">30</div>
<div class="t" style="left:18.8px;top:619.77px;font-size:7.3px;color:#1e1e1e;font-weight:normal;letter-spacing:0.013px;">TradingView</div>
</body></html>
